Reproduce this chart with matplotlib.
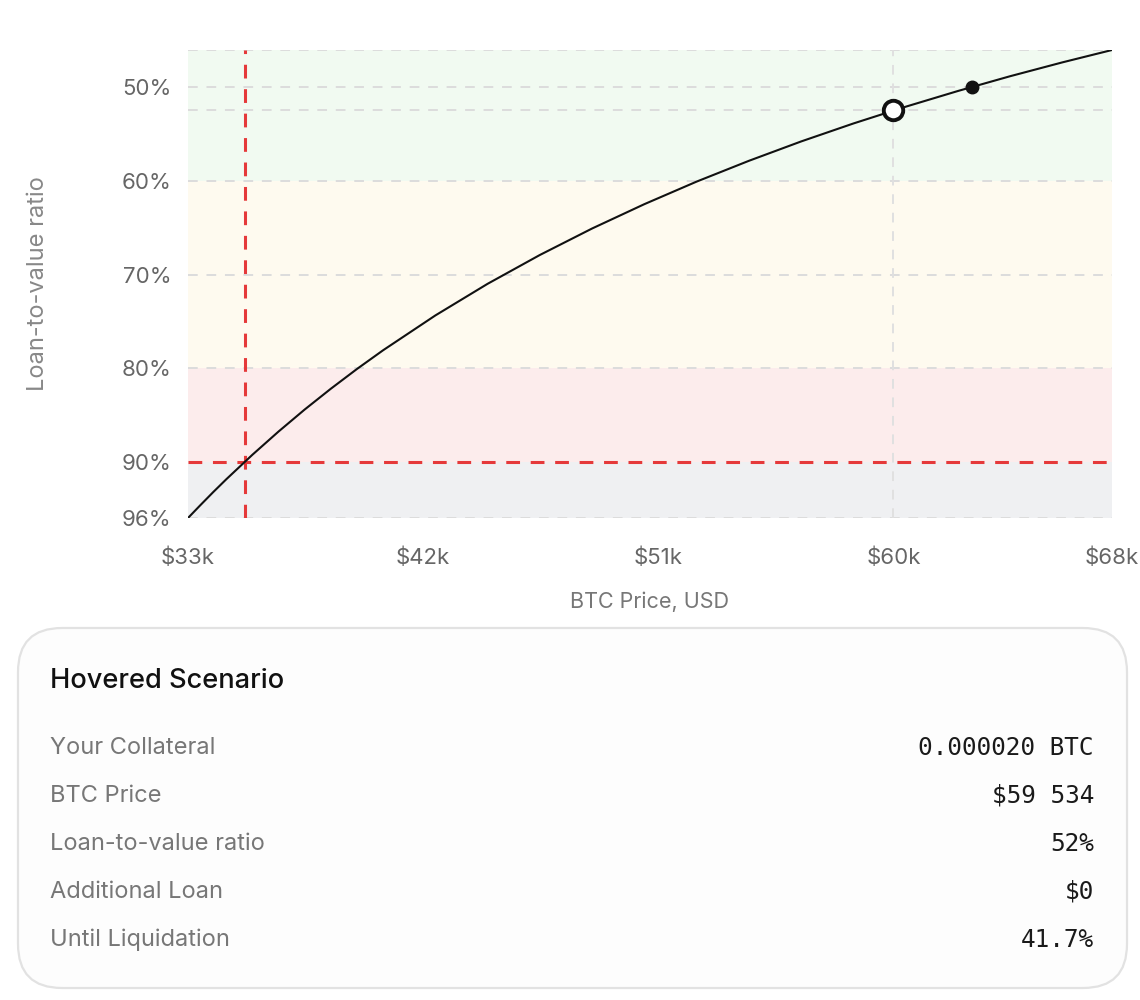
import matplotlib
matplotlib.use("Agg")
import matplotlib.pyplot as plt
from matplotlib.patches import FancyBboxPatch

# ---------------- data ----------------
price_usd = [32534, 33000, 33500, 34000, 35000, 36000, 37000, 38000, 39000, 40000,
             42000, 44000, 46000, 48000, 50000, 52000, 54000, 56000, 58000, 60000,
             62000, 64000, 66000, 67897]
ltv_pct = [96.0, 94.65, 93.23, 91.86, 89.24, 86.76, 84.41, 82.19, 80.08, 78.08,
           74.36, 70.98, 67.90, 65.07, 62.47, 60.06, 57.84, 55.77, 53.85, 52.06,
           50.38, 48.80, 47.32, 46.0]

x_tick_values = [32534, 41534, 50534, 59534, 67897]
x_tick_labels = ["$33k", "$42k", "$51k", "$60k", "$68k"]
y_tick_values = [50, 60, 70, 80, 90, 96]
y_tick_labels = ["50%", "60%", "70%", "80%", "90%", "96%"]

zone_edges = [46, 60, 80, 90, 96]
zone_colors = ["#f1faf1", "#fefaef", "#fcecec", "#eff0f2"]

liquidation_ltv = 90
liquidation_price = 34703
hover_price = 59534
hover_ltv = 52.46
current_price = 62550
current_ltv = 49.93

card_title = "Hovered Scenario"
card_labels = ["Your Collateral", "BTC Price", "Loan-to-value ratio",
               "Additional Loan", "Until Liquidation"]
card_values = ["0.000020 BTC", "$59 534", "52%", "$0", "41.7%"]

# ---------------- figure ----------------
W, H = 1140, 1000
fig = plt.figure(figsize=(W / 100, H / 100), dpi=100)
fig.patch.set_facecolor("white")

# background overlay in pixel coordinates (for the card)
bg = fig.add_axes([0, 0, 1, 1])
bg.set_xlim(0, W)
bg.set_ylim(H, 0)
bg.axis("off")

card = FancyBboxPatch((18, 628), 1109, 360,
                      boxstyle="round,pad=0,rounding_size=44",
                      facecolor="#fdfdfd", edgecolor="#e2e2e2", linewidth=1.6)
bg.add_patch(card)
bg.text(50, 681, card_title, fontsize=19.6, family=["Inter", "DejaVu Sans"],
        fontweight="medium", color="#111111", va="center", ha="left")
row_y0, row_dy = 748, 48
for i, (lab, val) in enumerate(zip(card_labels, card_values)):
    y = row_y0 + i * row_dy
    bg.text(50, y, lab, fontsize=17, family=["Inter", "DejaVu Sans"],
            color="#777777", va="center", ha="left")
    bg.text(1094, y, val, fontsize=17.6, family=["DejaVu Sans Mono"],
            color="#1a1a1a", va="center", ha="right")

# chart axes
left, right, top, bottom = 188, 1112, 50, 518
ax = fig.add_axes([left / W, 1 - bottom / H, (right - left) / W, (bottom - top) / H])
ax.set_facecolor("white")

for lo, hi, c in zip(zone_edges[:-1], zone_edges[1:], zone_colors):
    ax.axhspan(lo, hi, color=c, zorder=0, linewidth=0)

grid_kw = dict(color="#dcdcdc", linewidth=1.4, linestyle=(0, (5, 4.5)), zorder=1)
for yv in [46] + [v for v in y_tick_values if v != liquidation_ltv]:
    ax.axhline(yv, **grid_kw)
ax.axhline(hover_ltv, **grid_kw)
ax.axvline(hover_price, color="#e0e0e0", linewidth=1.4, linestyle=(0, (5, 4.5)), zorder=1)

red_kw = dict(color="#e5393a", linewidth=2.2, linestyle=(0, (4.5, 3.5)), zorder=2)
ax.axhline(liquidation_ltv, **red_kw)
ax.axvline(liquidation_price, **red_kw)

ax.plot(price_usd, ltv_pct, color="#111111", linewidth=1.5, zorder=3,
        solid_capstyle="round")
ax.plot([hover_price], [hover_ltv], marker="o", markersize=14, markerfacecolor="white",
        markeredgecolor="#111111", markeredgewidth=2.8, zorder=4)
ax.plot([current_price], [current_ltv], marker="o", markersize=9,
        color="#111111", zorder=4)

ax.set_xlim(x_tick_values[0], x_tick_values[-1])
ax.set_ylim(96, 46)

ax.set_xticks(x_tick_values)
ax.set_xticklabels(x_tick_labels)
ax.set_yticks(y_tick_values)
ax.set_yticklabels(y_tick_labels)
for lab in ax.get_xticklabels() + ax.get_yticklabels():
    lab.set_family(["Inter", "DejaVu Sans"])
    lab.set_fontsize(16)
    lab.set_color("#666666")
ax.tick_params(axis="x", length=0, pad=21)
ax.tick_params(axis="y", length=0, pad=12)
for s in ax.spines.values():
    s.set_visible(False)

ax.set_xlabel("BTC Price, USD", fontsize=15.5, color="#777777",
              family=["Inter", "DejaVu Sans"], labelpad=17)
ax.set_ylabel("Loan-to-value ratio", fontsize=17, color="#888888",
              family=["Inter", "DejaVu Sans"], labelpad=52)

fig.savefig("out.png", dpi=100, facecolor="white")
